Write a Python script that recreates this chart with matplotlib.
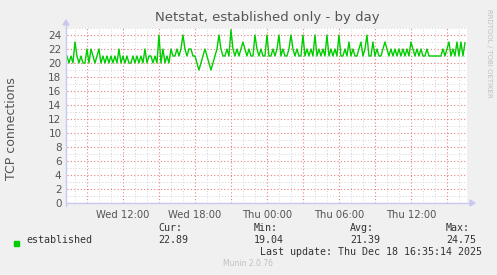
import numpy as np
import matplotlib
matplotlib.use("Agg")
import matplotlib.pyplot as plt
from matplotlib.ticker import MultipleLocator

# ---- data -------------------------------------------------------------
series_name = "established"
start_hour = 7.33          # hours after Wed 00:00 of first sample
step_hours = 1.0 / 6.0     # 10 minute samples
established = [
    21, 20, 21, 20, 23, 21, 20, 21, 20, 20,
    22, 20, 22, 21, 20, 21, 22, 20, 21, 20,
    21, 20, 21, 20, 21, 20, 22, 20, 21, 20,
    21, 20, 20, 21, 20, 21, 20, 21, 20, 22,
    20, 21, 21, 20, 21, 20, 24, 20, 22, 20,
    21, 20, 22, 21, 21, 22, 21, 22, 24, 22,
    21, 22, 22, 21, 21, 20, 19, 20, 21, 22,
    21, 20, 19, 20, 21, 22, 24, 22, 21, 21,
    22, 21, 24.75, 22, 21, 22, 21, 22, 23, 22,
    21, 22, 21, 21, 24, 22, 21, 22, 21, 21,
    24, 21, 21, 22, 21, 22, 24, 21, 22, 21,
    21, 22, 24, 22, 21, 22, 21, 21, 24, 21,
    22, 21, 22, 21, 24, 21, 22, 21, 22, 21,
    24, 21, 22, 21, 22, 21, 24, 21, 21, 22,
    21, 23, 21, 22, 21, 21, 22, 23, 21, 22,
    24, 21, 21, 23, 21, 22, 21, 21, 22, 23,
    22, 21, 22, 21, 22, 21, 22, 21, 22, 21,
    22, 21, 23, 22, 21, 22, 21, 22, 21, 21,
    22, 21, 21, 21, 21, 21, 21, 21, 22, 21,
    22, 23, 21, 22, 21, 23, 21, 23, 21, 22.89,
]
x_tick_hours = [12, 18, 24, 30, 36]
x_tick_labels = ["Wed 12:00", "Wed 18:00", "Thu 00:00", "Thu 06:00", "Thu 12:00"]
stat_labels = ["Cur:", "Min:", "Avg:", "Max:"]
stat_values = ["22.89", "19.04", "21.39", "24.75"]
title = "Netstat, established only - by day"
ylabel = "TCP connections"
last_update = "Last update: Thu Dec 18 16:35:14 2025"
footer = "Munin 2.0.76"
side_text = "RRDTOOL / TOBI OETIKER"
x_min_hour, x_max_hour = 7.333, 40.667
y_max = 25

# ---- figure -----------------------------------------------------------
W, H = 497, 275
fig = plt.figure(figsize=(W / 100, H / 100), dpi=100, facecolor="#F0F0F0")
L, R, T, B = 67, 467, 28, 203
ax = fig.add_axes([L / W, 1 - B / H, (R - L) / W, (B - T) / H])
ax.set_facecolor("white")

hours = start_hour + step_hours * np.arange(len(established))
ax.plot(hours, established, color="#00CC00", lw=1.0, zorder=3)

ax.set_xlim(x_min_hour, x_max_hour)
ax.set_ylim(0, y_max)

# grid
minor_x = [h for h in range(8, 41) if h % 3 != 0]
minor_y = [v for v in range(1, y_max + 1) if v % 2 != 0]
for xv in minor_x:
    ax.axvline(xv, color="#D4D4D4", lw=0.7, ls=(0, (1, 2)), zorder=1)
for yv in minor_y:
    ax.axhline(yv, color="#D4D4D4", lw=0.7, ls=(0, (1, 2)), zorder=1)
for yv in np.arange(0, y_max + 0.1, 2):
    ax.axhline(yv, color="#E88080", lw=0.8, ls=(0, (1, 2)), zorder=2)
for xv in np.arange(9, 41, 3):
    ax.axvline(xv, color="#E88080", lw=0.8, ls=(0, (1, 2)), zorder=2)

ax.yaxis.set_major_locator(MultipleLocator(2))
ax.set_xticks(x_tick_hours)
ax.set_xticklabels(x_tick_labels)
ax.tick_params(which="both", length=0, labelsize=7.2, labelcolor="#555555")
ax.tick_params(axis="y", labelsize=7.5)
ax.tick_params(axis="x", pad=5)
ax.tick_params(axis="y", pad=4)
for s in ax.spines.values():
    s.set_visible(False)

# axis lines with arrows
axis_col = "#C8C8F0"
fig.add_artist(plt.Line2D([L / W, (R + 4) / W], [1 - B / H, 1 - B / H], color=axis_col, lw=1))
fig.add_artist(plt.Line2D([(L - 1) / W, (L - 1) / W], [1 - (B + 3) / H, 1 - (T - 4) / H], color=axis_col, lw=1))
fig.patches.append(plt.Polygon([[(R + 3) / W, 1 - (B - 3) / H], [(R + 3) / W, 1 - (B + 3) / H], [(R + 8) / W, 1 - B / H]],
                               closed=True, color=axis_col, transform=fig.transFigure, figure=fig))
fig.patches.append(plt.Polygon([[(L - 4) / W, 1 - (T - 3) / H], [(L + 2) / W, 1 - (T - 3) / H], [(L - 1) / W, 1 - (T - 8) / H]],
                               closed=True, color=axis_col, transform=fig.transFigure, figure=fig))

# texts
fig.text(267 / W, 1 - 18 / H, title, ha="center", va="center", fontsize=9.5, color="#555555")
fig.text(12 / W, 1 - 129 / H, ylabel, ha="center", va="center", rotation=90, fontsize=9, color="#555555")
fig.text(489 / W, 1 - 53 / H, side_text, ha="center", va="center", rotation=270, fontsize=5, color="#C0C0C0")

mono = "DejaVu Sans Mono"
fig.patches.append(plt.Rectangle((14 / W, 1 - 246 / H), 5 / W, 5 / H, color="#00CC00",
                                 transform=fig.transFigure, figure=fig))
fs = 7.2
fig.text(26 / W, 1 - 240 / H, series_name, ha="left", va="center", fontsize=fs, family=mono, color="#333333")
for i, (lab, val) in enumerate(zip(stat_labels, stat_values)):
    xx = (158 + 96 * i) / W
    fig.text(xx, 1 - 228 / H, lab, ha="left", va="center", fontsize=fs, family=mono, color="#333333")
    fig.text(xx, 1 - 240 / H, val, ha="left", va="center", fontsize=fs, family=mono, color="#333333")
fig.text(482 / W, 1 - 252 / H, last_update, ha="right", va="center", fontsize=fs, family=mono, color="#333333")
fig.text(248 / W, 1 - 264 / H, footer, ha="center", va="center", fontsize=5.5, color="#C0C0C0")

fig.savefig("out.png", dpi=100, facecolor=fig.get_facecolor())
